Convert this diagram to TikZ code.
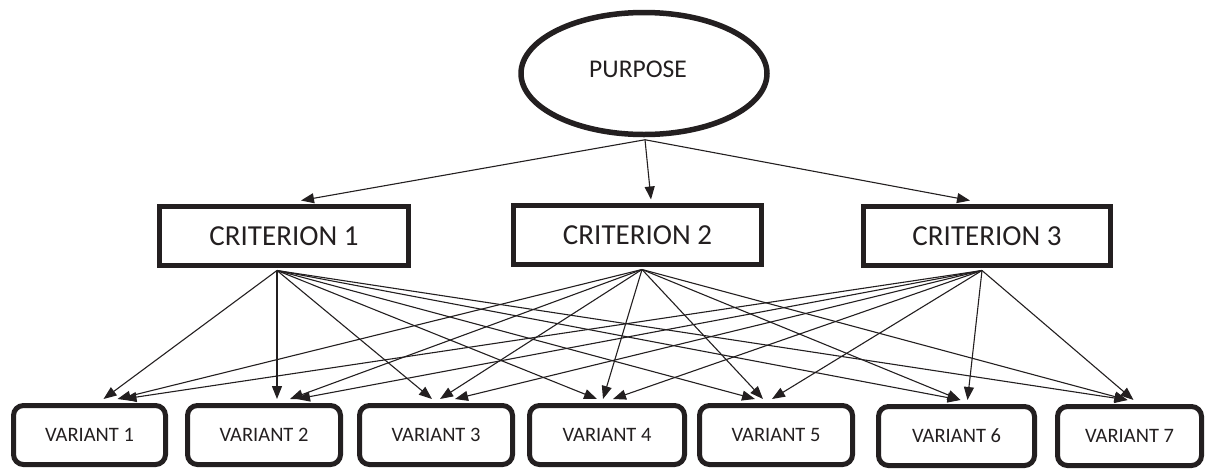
\documentclass[tikz,border=0pt]{standalone}
\usepackage{fontspec}
\setmainfont{Carlito}
\usetikzlibrary{shapes.geometric,arrows.meta,calc}
\definecolor{ink}{HTML}{231F20}
\begin{document}
\begin{tikzpicture}[x=1pt,y=1pt,
  goal/.style={ellipse, draw=ink, line width=5.5pt, minimum width=246pt, minimum height=122pt, inner sep=0pt, text=ink, font=\fontsize{25.5}{27}\selectfont},
  crit/.style={draw=ink, line width=5pt, minimum width=249pt, minimum height=59pt, inner sep=0pt, text=ink, font=\fontsize{29}{30}\selectfont},
  var/.style={draw=ink, line width=5pt, rounded corners=10pt, minimum height=59pt, inner sep=0pt, text=ink, font=\fontsize{20.5}{22}\selectfont},
  arr/.style={draw=ink, line width=1.1pt, -{Triangle[length=13pt,width=10pt]}},
]
\useasboundingbox (0,0) rectangle (1205,-469);
% nodes
\node[goal] (purpose) at (644,-73.5) {\raisebox{8.5pt}{PURPOSE}\hspace*{12pt}};
\node[crit] (c1) at (284,-236) {CRITERION 1};
\node[crit, minimum width=248pt] (c2) at (637.5,-235) {CRITERION 2};
\node[crit, minimum width=247pt] (c3) at (987,-236) {CRITERION 3};
\node[var, minimum width=152pt] (v1) at (89.5,-435) {VARIANT 1};
\node[var, minimum width=153pt] (v2) at (264,-435) {VARIANT 2};
\node[var, minimum width=153pt] (v3) at (436,-435) {VARIANT 3};
\node[var, minimum width=155pt] (v4) at (607,-435) {VARIANT 4};
\node[var, minimum width=153pt] (v5) at (776,-435) {VARIANT 5};
\node[var, minimum width=156pt] (v6) at (956.5,-436) {VARIANT 6};
\node[var, minimum width=144pt] (v7) at (1129.5,-436) {VARIANT 7};
% connector end points
\coordinate (ps) at ($(purpose.south)+(1,-2.5)$);
\coordinate (c1t) at ($(c1.north)+(17,3.5)$);
\coordinate (c2t) at ($(c2.north)+(13.5,3.5)$);
\coordinate (c3t) at ($(c3.north)+(-17,3.5)$);
\coordinate (c1s) at ($(c1.south)+(-7,-2.5)$);
\coordinate (c2s) at ($(c2.south)+(4.5,-2.5)$);
\coordinate (c3s) at ($(c3.south)+(-5,-2.5)$);
% purpose -> criteria
\draw[arr] (ps) -- (c1t);
\draw[arr] (ps) -- (c2t);
\draw[arr] (ps) -- (c3t);
% criteria -> variants
\foreach \v/\a/\b/\c in {1/14/28/34, 2/13/26/33, 3/-4/4/19, 4/-10/-4/6, 5/-21/-13/-4, 6/4/4/11, 7/-2/-2/4}{
  \coordinate (t\v a) at ($(v\v.north)+(\a,4)$);
  \coordinate (t\v b) at ($(v\v.north)+(\b,4)$);
  \coordinate (t\v c) at ($(v\v.north)+(\c,4)$);
  \draw[arr] (c1s) -- (t\v a);
  \draw[arr] (c2s) -- (t\v b);
  \draw[arr] (c3s) -- (t\v c);
}
\end{tikzpicture}
\end{document}
